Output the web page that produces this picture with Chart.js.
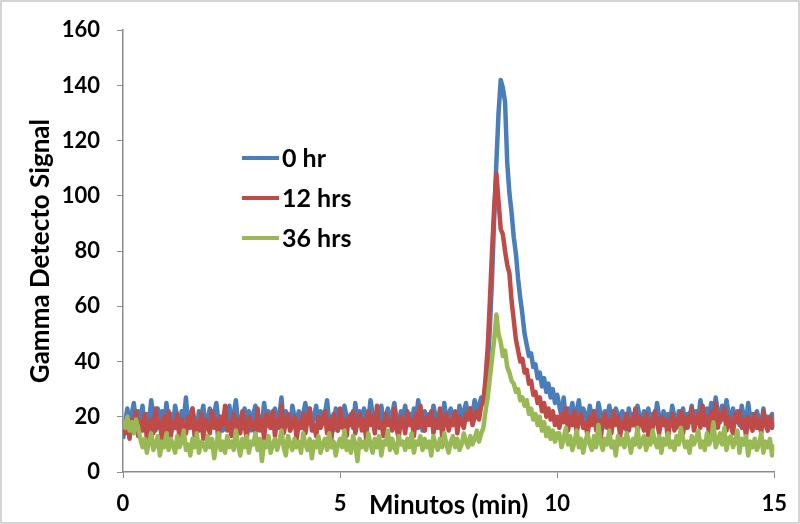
<!DOCTYPE html>
<html>
<head>
<meta charset="utf-8">
<script src="https://cdn.jsdelivr.net/npm/chart.js@4.4.1/dist/chart.umd.min.js"></script>
<style>
  html, body { margin: 0; padding: 0; background: #fff; }
  #wrap { width: 800px; height: 524px; }
</style>
</head>
<body>
<div id="wrap"><canvas id="chart" width="800" height="524"></canvas></div>
<script>
const seriesLabels = ["0 hr", "12 hrs", "36 hrs"];
const seriesColors = ["#4a7ebb", "#be4b48", "#98b954"];
const stepMin = 0.05; // one reading every 0.05 min, 0 - 15 min

const zeroHr = [
  12, 18, 23, 16, 21, 25, 17, 22, 19, 24,
  16, 21, 18, 26, 20, 15, 23, 19, 22, 17,
  25, 18, 21, 16, 24, 20, 14, 22, 19, 27,
  17, 21, 23, 18, 15, 22, 20, 24, 16, 19,
  23, 17, 21, 25, 18, 20, 15, 22, 19, 24,
  17, 21, 26, 18, 20, 16, 23, 19, 22, 15,
  21, 24, 18, 20, 17, 25, 19, 22, 16, 21,
  23, 18, 20, 27, 17, 22, 19, 15, 24, 20,
  18, 22, 16, 21, 25, 19, 23, 17, 20, 24,
  16, 22, 19, 21, 26, 18, 20, 15, 23, 19,
  22, 17, 24, 20, 18, 21, 16, 25, 19, 22,
  17, 23, 20, 18, 26, 21, 16, 22, 19, 24,
  18, 20, 23, 17, 21, 25, 19, 16, 22, 20,
  24, 18, 21, 17, 23, 19, 26, 20, 15, 22,
  19, 21, 17, 24, 20, 18, 22, 16, 25, 19,
  21, 23, 18, 20, 17, 24, 19, 22, 25, 20,
  23, 21, 26, 22, 24, 27,
  26, 31, 38, 52, 70, 92, 112, 130, 142, 139,
  134, 112, 101, 94, 85, 79, 70, 63, 57, 50,
  46, 42, 43, 38, 39, 34, 36, 31, 34, 29,
  32, 27, 30, 25, 28,
  24, 20, 27, 19, 23, 21, 25, 18, 22, 26,
  19, 23, 21, 17, 24, 20, 22, 18, 25, 21,
  16, 22, 19, 24, 20, 17, 23, 21, 18, 22,
  20, 15, 23, 19, 21, 17, 24, 20, 18, 22,
  19, 23, 16, 21, 18, 25, 20, 17, 22, 19,
  21, 18, 24, 20, 16, 22, 19, 23, 17, 21,
  20, 24, 18, 22, 19, 26, 21, 17, 23, 20,
  25, 19, 27, 22, 18, 24, 20, 26, 21, 18,
  23, 19, 22, 17, 24, 20, 18, 25, 19, 21,
  17, 22, 19, 16, 23, 18, 20, 17, 21, 16
];

const twelveHrs = [
  18, 14, 20, 12, 19, 16, 22, 13, 18, 15,
  21, 12, 17, 19, 14, 23, 16, 18, 11, 20,
  15, 22, 13, 18, 16, 21, 12, 19, 17, 14,
  20, 16, 23, 13, 18, 15, 21, 12, 19, 17,
  14, 22, 16, 19, 11, 20, 17, 24, 15, 18,
  13, 21, 16, 19, 14, 22, 17, 12, 20, 16,
  18, 14, 23, 15, 19, 12, 21, 17, 16, 22,
  13, 19, 16, 24, 14, 18, 21, 15, 17, 20,
  12, 18, 16, 21, 14, 19, 23, 15, 17, 13,
  20, 16, 18, 22, 14, 19, 12, 21, 17, 15,
  23, 16, 19, 13, 20, 17, 22, 14, 18, 21,
  15, 19, 12, 22, 17, 20, 14, 24, 16, 18,
  13, 21, 17, 19, 15, 23, 16, 12, 20, 18,
  14, 22, 17, 19, 13, 21, 16, 24, 18, 15,
  20, 17, 22, 14, 19, 16, 23, 13, 18, 21,
  15, 19, 17, 22, 14, 20, 18, 16, 21, 19,
  23, 17, 20, 22, 19, 24,
  25, 34, 45, 62, 80, 96, 108, 98, 88, 86,
  80, 75, 72, 62, 55, 48, 44, 40, 41, 36,
  37, 32, 33, 28, 29, 25, 27, 22, 25, 20,
  23, 19, 22, 17, 20,
  16, 21, 18, 23, 15, 20, 17, 22, 14, 19,
  21, 16, 18, 13, 20, 17, 22, 15, 19, 12,
  18, 21, 16, 19, 14, 22, 17, 20, 13, 18,
  16, 21, 15, 19, 17, 23, 14, 20, 18, 15,
  21, 13, 19, 16, 22, 18, 14, 20, 17, 19,
  12, 18, 21, 15, 19, 17, 22, 14, 20, 16,
  19, 23, 15, 18, 21, 16, 24, 17, 20, 14,
  22, 18, 25, 16, 21, 19, 23, 15, 20, 17,
  14, 21, 18, 22, 16, 19, 13, 20, 17, 15,
  21, 16, 19, 14, 22, 17, 15, 20, 16, 18
];

const thirtySixHrs = [
  19, 16, 20, 15, 18, 14, 19, 16, 12, 9,
  12, 7, 11, 14, 8, 10, 13, 6, 11, 9,
  14, 8, 12, 10, 7, 13, 9, 11, 15, 8,
  10, 6, 12, 9, 14, 7, 11, 10, 8, 13,
  9, 12, 5, 10, 14, 8, 11, 7, 13, 9,
  11, 8, 15, 10, 6, 12, 9, 13, 7, 11,
  10, 14, 8, 12, 4, 11, 9, 13, 7, 10,
  12, 8, 11, 15, 9, 6, 13, 10, 8, 12,
  9, 11, 7, 14, 10, 8, 12, 5, 11, 9,
  13, 7, 10, 12, 8, 14, 9, 11, 6, 10,
  12, 9, 15, 8, 11, 7, 13, 10, 4, 12,
  9, 11, 8, 14, 10, 7, 12, 9, 13, 6,
  11, 10, 15, 8, 12, 9, 7, 13, 10, 11,
  8, 12, 9, 14, 7, 11, 10, 13, 8, 12,
  9, 11, 6, 13, 10, 8, 12, 9, 14, 10,
  7, 11, 13, 9, 12, 8, 10, 14, 11, 9,
  13, 10, 12, 15, 11, 14,
  16, 22, 27, 34, 41, 48, 57, 50, 47, 42,
  44, 38, 36, 33, 32, 29, 30, 26, 27, 24,
  26, 21, 23, 19, 21, 17, 20, 15, 18, 13,
  16, 12, 15, 11, 14,
  14, 9, 12, 16, 10, 13, 8, 11, 15, 9,
  12, 7, 11, 14, 10, 8, 13, 9, 17, 11,
  8, 12, 10, 15, 9, 11, 6, 13, 10, 12,
  9, 14, 11, 7, 12, 10, 16, 9, 11, 13,
  8, 12, 10, 15, 11, 9, 13, 7, 12, 10,
  14, 9, 11, 8, 13, 10, 16, 12, 9, 11,
  7, 13, 10, 12, 15, 9, 11, 8, 14, 10,
  12, 18, 9, 11, 14, 10, 16, 8, 12, 13,
  9, 11, 15, 7, 12, 10, 13, 6, 11, 9,
  12, 8, 10, 14, 7, 11, 9, 12, 6, 10
];

const allSeries = [zeroHr, twelveHrs, thirtySixHrs];
const fontFamily = "Lato, 'Open Sans', sans-serif";
const axisGray = "#8c8c8c";

const toPoints = (values) => values.map((v, i) => ({x: i * stepMin, y: v}));

// legend sits inside the plot, like the excel one
const insideLegend = {
  id: 'insideLegend',
  afterDraw(chart) {
    const ctx = chart.ctx;
    ctx.save();
    ctx.font = "bold 25px " + fontFamily;
    ctx.textBaseline = 'middle';
    chart.data.datasets.forEach((ds, i) => {
      const y = 158 + i * 40;
      ctx.strokeStyle = ds.borderColor;
      ctx.lineWidth = 4;
      ctx.beginPath();
      ctx.moveTo(242, y);
      ctx.lineTo(279, y);
      ctx.stroke();
      ctx.fillStyle = '#000';
      ctx.fillText(ds.label, 282, y + 1);
    });
    ctx.restore();
  }
};

const frame = {
  id: 'frame',
  beforeDraw(chart) {
    const ctx = chart.ctx;
    ctx.save();
    ctx.fillStyle = '#fff';
    ctx.fillRect(0, 0, chart.width, chart.height);
    ctx.strokeStyle = '#c6c6c6';
    ctx.lineWidth = 1.5;
    ctx.strokeRect(1, 1, chart.width - 2, chart.height - 2);
    ctx.restore();
  }
};

new Chart(document.getElementById('chart'), {
  type: 'line',
  plugins: [frame, insideLegend],
  data: {
    datasets: allSeries.map((values, i) => ({
      label: seriesLabels[i],
      data: toPoints(values),
      borderColor: seriesColors[i],
      backgroundColor: seriesColors[i],
      borderWidth: 4.5,
      pointRadius: 0,
      tension: 0,
      borderJoinStyle: 'round',
      order: 3 - i
    }))
  },
  options: {
    responsive: false,
    animation: false,
    layout: {padding: {top: 24, right: 24, left: 0, bottom: 0}},
    plugins: {
      legend: {display: false},
      tooltip: {enabled: false}
    },
    scales: {
      x: {
        type: 'linear',
        min: 0,
        max: 15,
        afterFit: (s) => { s.height = 52; },
        ticks: {
          stepSize: 5,
          color: '#000',
          padding: 13,
          maxRotation: 0,
          font: {family: fontFamily, size: 22, weight: 'bold'}
        },
        grid: {display: true, drawOnChartArea: false, tickLength: 6, color: axisGray},
        border: {display: true, color: axisGray, width: 1.5},
        title: {
          display: true,
          text: 'Minutos (min)',
          color: '#000',
          padding: {top: 0, bottom: 3},
          font: {family: fontFamily, size: 26, weight: 'bold'}
        }
      },
      y: {
        min: 0,
        max: 160,
        afterFit: (s) => { s.width = 123; },
        ticks: {
          stepSize: 20,
          color: '#000',
          padding: 17,
          font: {family: fontFamily, size: 22, weight: 'bold'}
        },
        grid: {display: true, drawOnChartArea: false, tickLength: 6, color: axisGray},
        border: {display: true, color: axisGray, width: 1.5},
        title: {
          display: true,
          text: 'Gamma Detecto Signal',
          color: '#000',
          padding: {top: 25, bottom: 0},
          font: {family: fontFamily, size: 26, weight: 'bold'}
        }
      }
    }
  }
});
</script>
</body>
</html>
